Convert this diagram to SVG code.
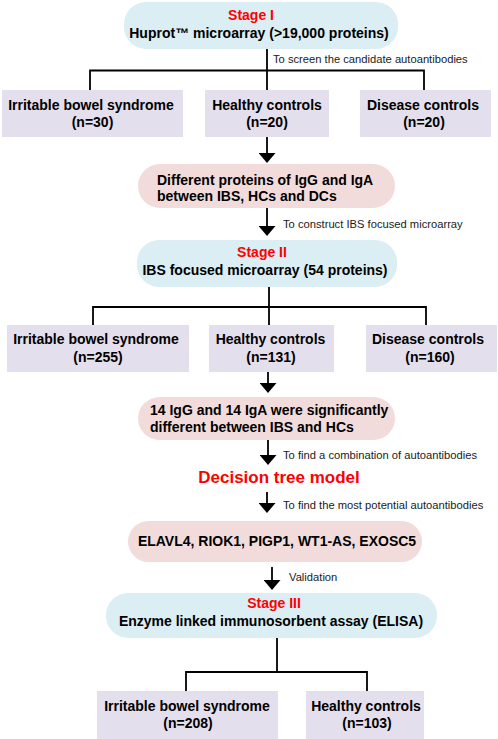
<svg xmlns="http://www.w3.org/2000/svg" width="498" height="739" viewBox="0 0 498 739">
<defs>
<marker id="ah" viewBox="0 0 10 17" refX="0" refY="8.5" markerWidth="10" markerHeight="17" markerUnits="userSpaceOnUse" orient="auto">
<path d="M0,0 L10,8.5 L0,17 Z" fill="#000"/>
</marker>
<style>
.stage{fill:#daeef3}
.grp{fill:#e4dfec}
.res{fill:#f2dcdb}
text{font-family:"Liberation Sans",Arial,sans-serif}
.b{font-weight:bold;font-size:14px;fill:#000}
.c{text-anchor:middle}
.red{fill:#ff0000}
.lbl{font-size:11.2px;fill:#1a1a1a}
.ln{stroke:#000;stroke-width:1.8;fill:none}
.arr{stroke:#000;stroke-width:1.8;fill:none;marker-end:url(#ah)}
</style>
</defs>
<rect width="498" height="739" fill="#fff"/>

<g id="connectors">
<path class="ln" d="M267,49 V90 M90,90 V70.5 H424 V90"/>
<text class="lbl" x="273" y="62.5">To screen the candidate autoantibodies</text>
<line class="arr" x1="267" y1="137" x2="267" y2="153"/>
<line class="arr" x1="267" y1="208" x2="267" y2="226"/>
<text class="lbl" x="283" y="228">To construct IBS focused microarray</text>
<path class="ln" d="M269,287 V325 M93,325 V307 H426 V325"/>
<line class="arr" x1="268" y1="372" x2="268" y2="383"/>
<line class="arr" x1="268" y1="440" x2="268" y2="455"/>
<text class="lbl" x="283" y="459">To find a combination of autoantibodies</text>
<line class="arr" x1="267" y1="492" x2="267" y2="503"/>
<text class="lbl" x="283" y="509">To find the most potential autoantibodies</text>
<line class="arr" x1="272" y1="567" x2="272" y2="580"/>
<text class="lbl" x="289" y="581">Validation</text>
<path class="ln" d="M277,638 V672 M186,691 V672 H367 V691"/>
</g>

<g id="stage1">
<rect class="stage" x="124" y="2" width="274" height="47" rx="22"/>
<text class="b c red" x="251" y="20">Stage I</text>
<text class="b c" x="259" y="37.5">Huprot™ microarray (&gt;19,000 proteins)</text>
</g>

<g id="s1-ibs">
<rect class="grp" x="2" y="90" width="181" height="47"/>
<text class="b c" x="91" y="110">Irritable bowel syndrome</text>
<text class="b c" x="92.5" y="127">(n=30)</text>
</g>
<g id="s1-hc">
<rect class="grp" x="205" y="90" width="124" height="47"/>
<text class="b c" x="267" y="110">Healthy controls</text>
<text class="b c" x="267" y="127">(n=20)</text>
</g>
<g id="s1-dc">
<rect class="grp" x="360" y="90" width="131" height="47"/>
<text class="b c" x="423" y="110">Disease controls</text>
<text class="b c" x="424" y="127">(n=20)</text>
</g>

<g id="result1">
<rect class="res" x="138" y="164" width="257" height="44" rx="22"/>
<text class="b" x="157" y="185">Different proteins of IgG and IgA</text>
<text class="b" x="157" y="201">between IBS, HCs and DCs</text>
</g>

<g id="stage2">
<rect class="stage" x="137" y="240" width="260" height="47" rx="22"/>
<text class="b c red" x="262" y="257">Stage II</text>
<text class="b c" x="265" y="275">IBS focused microarray (54 proteins)</text>
</g>

<g id="s2-ibs">
<rect class="grp" x="7" y="325" width="182" height="47"/>
<text class="b c" x="96" y="344">Irritable bowel syndrome</text>
<text class="b c" x="98" y="362">(n=255)</text>
</g>
<g id="s2-hc">
<rect class="grp" x="209" y="325" width="125" height="47"/>
<text class="b c" x="270.5" y="344">Healthy controls</text>
<text class="b c" x="271" y="362">(n=131)</text>
</g>
<g id="s2-dc">
<rect class="grp" x="366" y="325" width="131" height="47"/>
<text class="b c" x="428" y="344">Disease controls</text>
<text class="b c" x="430" y="362">(n=160)</text>
</g>

<g id="result2">
<rect class="res" x="138" y="397" width="257" height="43" rx="21.5"/>
<text class="b" x="150" y="415">14 IgG and 14 IgA were significantly</text>
<text class="b" x="150" y="432">different between IBS and HCs</text>
</g>

<g id="decision-tree">
<text class="c red" x="279" y="483" style="font-weight:bold;font-size:17px">Decision tree model</text>
</g>

<g id="result3">
<rect class="res" x="128" y="521" width="294" height="41" rx="20.5"/>
<text class="b c" x="277" y="546">ELAVL4, RIOK1, PIGP1, WT1-AS, EXOSC5</text>
</g>

<g id="stage3">
<rect class="stage" x="106" y="593" width="331" height="45" rx="22"/>
<text class="b c red" x="274" y="608">Stage III</text>
<text class="b c" x="271" y="626">Enzyme linked immunosorbent assay (ELISA)</text>
</g>

<g id="s3-ibs">
<rect class="grp" x="97" y="691" width="181" height="48"/>
<text class="b c" x="187" y="711">Irritable bowel syndrome</text>
<text class="b c" x="188" y="728">(n=208)</text>
</g>
<g id="s3-hc">
<rect class="grp" x="306" y="691" width="118" height="48"/>
<text class="b c" x="366" y="711">Healthy controls</text>
<text class="b c" x="367" y="728">(n=103)</text>
</g>
</svg>
